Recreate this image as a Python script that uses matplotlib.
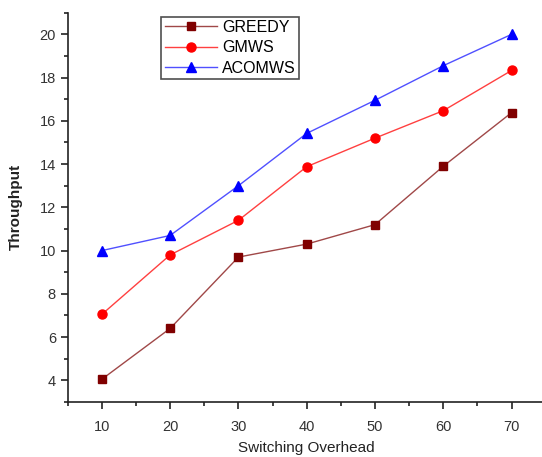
import matplotlib.pyplot as plt
from matplotlib.ticker import MultipleLocator

overhead = [10, 20, 30, 40, 50, 60, 70]
greedy = [4.05, 6.4, 9.7, 10.3, 11.2, 13.9, 16.38]
gmws = [7.05, 9.8, 11.4, 13.88, 15.2, 16.47, 18.33]
acomws = [10.0, 10.7, 13.0, 15.42, 16.95, 18.55, 20.0]

plt.rcParams['font.family'] = ['Liberation Sans', 'DejaVu Sans']

fig = plt.figure(figsize=(5.42, 4.57), dpi=100)
ax = fig.add_axes([0.1249, 0.1204, 0.882, 0.8518])

ax.plot(overhead, greedy, color='#a04848', lw=1.0, marker='s', ms=6,
        mfc='#800000', mec='#800000', label='GREEDY')
ax.plot(overhead, gmws, color='#ff4040', lw=1.0, marker='o', ms=6.5,
        mfc='#ff0000', mec='#ff0000', label='GMWS')
ax.plot(overhead, acomws, color='#5050ff', lw=1.0, marker='^', ms=7.5,
        mfc='#0000ff', mec='#0000ff', label='ACOMWS')

ax.set_xlim(5, 75)
ax.set_ylim(3, 21)
ax.xaxis.set_major_locator(MultipleLocator(10))
ax.xaxis.set_minor_locator(MultipleLocator(5))
ax.yaxis.set_major_locator(MultipleLocator(2))
ax.yaxis.set_minor_locator(MultipleLocator(1))
ax.set_xticks(overhead)

ax.spines['top'].set_visible(False)
ax.spines['right'].set_visible(False)
for s in ['left', 'bottom']:
    ax.spines[s].set_linewidth(1.2)
    ax.spines[s].set_color('#222222')

ax.tick_params(which='major', direction='out', length=5, width=1.2,
               labelsize=10.5, colors='#222222', labelcolor='#333333')
ax.tick_params(which='minor', direction='out', length=3, width=1.2, colors='#222222')
ax.tick_params(axis='x', pad=8)

ax.set_xlabel('Switching Overhead', fontsize=11, color='#222222', labelpad=5)
ax.set_ylabel('Throughput', fontsize=11, fontweight='bold', color='#222222', labelpad=12)

leg = ax.legend(loc='upper left', bbox_to_anchor=(0.196, 0.99), fontsize=11.5,
                frameon=True, fancybox=False, edgecolor='#222222',
                borderpad=0.2, labelspacing=0.35, handlelength=3.3,
                handletextpad=0.3, borderaxespad=0)
leg.get_frame().set_linewidth(1.2)

fig.savefig('out.png', dpi=100)
